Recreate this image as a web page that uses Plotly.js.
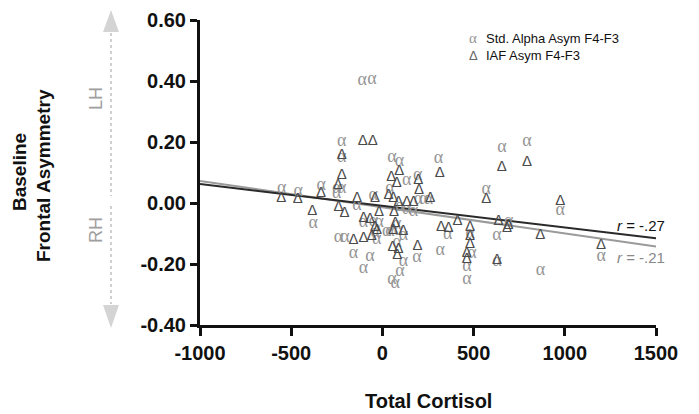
<!DOCTYPE html>
<html>
<head>
<meta charset="utf-8">
<script src="https://cdn.plot.ly/plotly-3.0.1.min.js"></script>
<style>html,body{margin:0;padding:0;background:#fff;}#chart{width:699px;height:414px;}</style>
</head>
<body>
<div id="chart"></div>
<script>
// Std. Alpha Asym F4-F3 (alpha markers)
var alphaX = [-111,-57,-223,-223,52,93,307,134,193,-336,-552,-461,-250,-223,-250,-140,-51,42,198,225,252,97,134,170,-379,-104,-18,-49,-241,-205,-31,-159,-68,-104,24,79,88,115,81,115,190,97,52,70,358,317,655,793,569,975,481,491,463,463,628,692,628,866,1199,42,-40];
var alphaY = [0.401,0.406,0.201,0.148,0.150,0.135,0.147,0.073,0.089,0.056,0.048,0.037,0.048,0.048,0.032,-0.007,0.023,0.048,0.010,0.010,0.013,-0.012,-0.021,-0.029,-0.067,-0.065,-0.065,-0.061,-0.112,-0.112,-0.121,-0.167,-0.174,-0.214,-0.094,-0.072,-0.089,-0.105,-0.128,-0.192,-0.180,-0.225,-0.252,-0.263,-0.103,-0.156,0.181,0.201,0.045,-0.023,-0.099,-0.165,-0.209,-0.252,-0.105,-0.061,-0.192,-0.222,-0.176,-0.095,-0.098];

// IAF Asym F4-F3 (delta markers)
var iafX = [-108,-53,-223,93,314,-223,-243,48,79,196,201,-555,-464,-336,-385,-241,-207,-139,-40,33,-19,64,-104,-68,-40,-29,-159,-104,-58,60,88,134,170,262,70,115,60,56,88,81,192,321,655,793,569,975,412,362,481,481,481,463,463,637,683,692,628,866,1199];
var iafY = [0.201,0.201,0.157,0.103,0.097,0.092,0.059,0.084,0.065,0.074,0.043,0.014,0.011,0.032,-0.026,-0.015,-0.034,0.015,0.016,0.026,-0.029,-0.030,-0.050,-0.052,-0.078,-0.089,-0.121,-0.116,-0.108,0.015,0.004,0.004,0.004,0.015,-0.067,-0.093,-0.089,-0.146,-0.151,-0.170,-0.143,-0.080,0.116,0.132,0.012,0.007,-0.061,-0.083,-0.080,-0.110,-0.134,-0.165,-0.185,-0.061,-0.083,-0.072,-0.187,-0.105,-0.138];

// Regression lines
var fitIafX = [-1000, 1500];
var fitIafY = [0.062, -0.116];
var fitAlphaX = [-1000, 1500];
var fitAlphaY = [0.072, -0.143];

var xTickVals = [-1000,-500,0,500,1000,1500];
var xTickText = ['-1000','-500','0','500','1000','1500'];
var yTickVals = [-0.4,-0.2,0,0.2,0.4,0.6];
var yTickText = ['-0.40','-0.20','0.00','0.20','0.40','0.60'];

var seriesNames = ['Std. Alpha Asym F4-F3','IAF Asym F4-F3'];
var rLabels = ['r = -.27','r = -.21'];

var alphaColor = '#959595';
var iafColor = '#4a4a4a';

function repeat(s, n){ var a=[]; for(var i=0;i<n;i++) a.push(s); return a; }

var traces = [
  {x: fitAlphaX, y: fitAlphaY, mode:'lines', line:{color:'#9a9a9a', width:2}, hoverinfo:'skip', showlegend:false},
  {x: fitIafX, y: fitIafY, mode:'lines', line:{color:'#2a2a2a', width:2}, hoverinfo:'skip', showlegend:false},
  {x: alphaX, y: alphaY, mode:'text', text: repeat('α', alphaX.length), textposition:'middle center',
   textfont:{family:'Liberation Serif', size:18, color:alphaColor}, name: seriesNames[0], showlegend:false, cliponaxis:false},
  {x: iafX, y: iafY, mode:'text', text: repeat('Δ', iafX.length), textposition:'middle center',
   textfont:{family:'Liberation Sans', size:15, color:iafColor}, name: seriesNames[1], showlegend:false, cliponaxis:false}
];

function px2x(px){ return (px-200)/456; }
function py2y(py){ return (325-py)/305; }

var shapes = [
  {type:'line', xref:'paper', yref:'paper', x0:px2x(111), x1:px2x(111), y0:py2y(33), y1:py2y(196),
   line:{color:'#cfcfcf', width:2, dash:'dot'}},
  {type:'line', xref:'paper', yref:'paper', x0:px2x(111), x1:px2x(111), y0:py2y(206), y1:py2y(304),
   line:{color:'#cfcfcf', width:2, dash:'dot'}},
  {type:'path', xref:'paper', yref:'paper', fillcolor:'#d4d4d4', line:{width:0},
   path:'M '+px2x(111)+','+py2y(10)+' L '+px2x(103)+','+py2y(32)+' L '+px2x(119)+','+py2y(32)+' Z'},
  {type:'path', xref:'paper', yref:'paper', fillcolor:'#d4d4d4', line:{width:0},
   path:'M '+px2x(111)+','+py2y(328)+' L '+px2x(103)+','+py2y(305)+' L '+px2x(119)+','+py2y(305)+' Z'}
];

var bold = {family:'Liberation Sans', size:19, color:'#111', weight:'bold'};
var annotations = [
  {xref:'paper', yref:'paper', x:px2x(19), y:py2y(172), text:'Baseline', showarrow:false, textangle:-90,
   xanchor:'center', yanchor:'middle', font:bold},
  {xref:'paper', yref:'paper', x:px2x(43), y:py2y(176), text:'Frontal Asymmetry', showarrow:false, textangle:-90,
   xanchor:'center', yanchor:'middle', font:bold},
  {xref:'paper', yref:'paper', x:0.5, y:py2y(401), text:'Total Cortisol', showarrow:false,
   xanchor:'center', yanchor:'middle', font:{family:'Liberation Sans', size:20, color:'#111', weight:'bold'}},
  {xref:'paper', yref:'paper', x:px2x(96), y:py2y(99), text:'LH', showarrow:false, textangle:-90,
   xanchor:'center', yanchor:'middle', font:{family:'Liberation Sans', size:18, color:'#a0a0a0'}},
  {xref:'paper', yref:'paper', x:px2x(96), y:py2y(230), text:'RH', showarrow:false, textangle:-90,
   xanchor:'center', yanchor:'middle', font:{family:'Liberation Sans', size:18, color:'#a0a0a0'}},
  {xref:'paper', yref:'paper', x:px2x(641), y:py2y(225), text:'<i>r</i>'+rLabels[0].slice(1), showarrow:false,
   xanchor:'center', yanchor:'middle', font:{family:'Liberation Sans', size:15, color:'#111'}},
  {xref:'paper', yref:'paper', x:px2x(641), y:py2y(257), text:'<i>r</i>'+rLabels[1].slice(1), showarrow:false,
   xanchor:'center', yanchor:'middle', font:{family:'Liberation Sans', size:15, color:'#888'}},
  {xref:'paper', yref:'paper', x:px2x(473), y:py2y(38), text:'α', showarrow:false,
   xanchor:'center', yanchor:'middle', font:{family:'Liberation Serif', size:15, color:alphaColor}},
  {xref:'paper', yref:'paper', x:px2x(484), y:py2y(38), text:seriesNames[0], showarrow:false,
   xanchor:'left', yanchor:'middle', font:{family:'Liberation Sans', size:13, color:'#111'}},
  {xref:'paper', yref:'paper', x:px2x(473), y:py2y(56), text:'Δ', showarrow:false,
   xanchor:'center', yanchor:'middle', font:{family:'Liberation Sans', size:13, color:'#666'}},
  {xref:'paper', yref:'paper', x:px2x(484), y:py2y(56), text:seriesNames[1], showarrow:false,
   xanchor:'left', yanchor:'middle', font:{family:'Liberation Sans', size:13, color:'#111'}}
];

var tickFont = {family:'Liberation Sans', size:20, color:'#111', weight:'bold'};
var layout = {
  width:699, height:414,
  margin:{l:200, r:43, t:20, b:89},
  paper_bgcolor:'#fff', plot_bgcolor:'#fff',
  showlegend:false,
  xaxis:{range:[-1000,1500], tickvals:xTickVals, ticktext:xTickText, showgrid:false, zeroline:false,
    showline:true, linecolor:'#111', linewidth:3, ticks:'outside', ticklen:8, tickwidth:3, tickcolor:'#111',
    tickfont:tickFont, fixedrange:true},
  yaxis:{range:[-0.4,0.6], tickvals:yTickVals, ticktext:yTickText, showgrid:false, zeroline:false,
    showline:true, linecolor:'#111', linewidth:3, ticks:'outside', ticklen:7, tickwidth:3, tickcolor:'#111',
    tickfont:tickFont, fixedrange:true},
  shapes:shapes,
  annotations:annotations
};

Plotly.newPlot('chart', traces, layout, {displayModeBar:false, staticPlot:true});
</script>
</body>
</html>
